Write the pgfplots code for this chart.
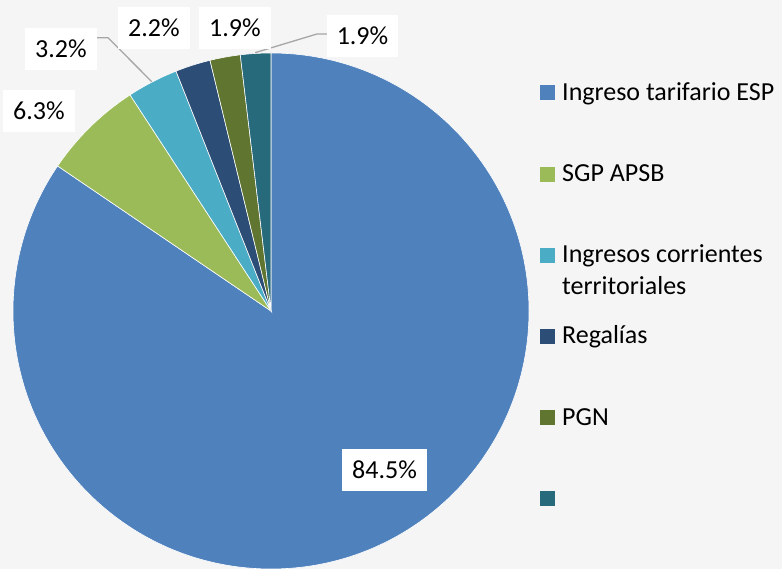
\documentclass[border=0pt]{standalone}
\usepackage{pgfplots}
\pgfplotsset{compat=1.18}
\usepackage{fontspec}
\setmainfont{Carlito}
\definecolor{bg}{HTML}{F5F5F5}
\definecolor{c1}{HTML}{4F81BD}
\definecolor{c2}{HTML}{9BBB59}
\definecolor{c3}{HTML}{4BACC6}
\definecolor{c4}{HTML}{2C4D75}
\definecolor{c5}{HTML}{5F7530}
\definecolor{c6}{HTML}{276A7C}
\definecolor{lead}{HTML}{A6A6A6}
\begin{document}
\begin{tikzpicture}[x=1pt,y=1pt, font=\fontsize{26}{32}\selectfont,
  lbl/.style={fill=white, inner xsep=10pt, inner ysep=12.75pt, text height=16.5pt, text depth=0pt, anchor=center},
  leader/.style={draw=lead, line width=1.3pt}]
\path[use as bounding box, fill=bg] (0,0) rectangle (782,569);
\begin{axis}[at={(271pt,258pt)}, anchor=center, x=258pt, y=258pt,
  xmin=-1, xmax=1, ymin=-1, ymax=1, hide axis, clip=false,
  every axis plot/.append style={draw=white, line width=0.6pt, data cs=polar},
  legend cell align=left,
  legend image code/.code={\path[#1, draw=none] (0pt,-7.5pt) rectangle (15pt,7.5pt);},
  legend style={at={(axis description cs:1.0213,0.9448)}, anchor=north west,
    draw=none, fill=none, inner sep=0pt, row sep=58.6pt, column sep=5pt,
    font=\fontsize{26}{32}\selectfont,
    /tikz/every even column/.append style={text height=17pt, text depth=5pt, inner sep=0pt}},
]
% shares (%): 84.5, 6.3, 3.2, 2.2, 1.9, 1.9 ; clockwise from 12 o'clock
\addplot[fill=c1] coordinates {(0,0) (90,1)} arc[start angle=90, delta angle=-3.6*84.5, radius=258pt] -- cycle;
\addlegendentry{Ingreso tarifario ESP}
\addplot[fill=c2] coordinates {(0,0) (-214.2,1)} arc[start angle=-214.2, delta angle=-3.6*6.3, radius=258pt] -- cycle;
\addlegendentry{SGP APSB}
\addplot[fill=c3] coordinates {(0,0) (-236.88,1)} arc[start angle=-236.88, delta angle=-3.6*3.2, radius=258pt] -- cycle;
\addlegendentry{\vtop{\hbox{Ingresos corrientes}\hbox{territoriales}}}
\addplot[fill=c4] coordinates {(0,0) (-248.4,1)} arc[start angle=-248.4, delta angle=-3.6*2.2, radius=258pt] -- cycle;
\addlegendentry{Regalías}
\addplot[fill=c5] coordinates {(0,0) (-256.32,1)} arc[start angle=-256.32, delta angle=-3.6*1.9, radius=258pt] -- cycle;
\addlegendentry{PGN}
\addplot[fill=c6] coordinates {(0,0) (-263.16,1)} arc[start angle=-263.16, delta angle=-3.6*1.9, radius=258pt] -- cycle;
\addlegendentry{}
\end{axis}
\draw[leader] (97,531.3) -- (108,531.3) -- (151.7,487.3);
\draw[leader] (328,535) -- (317,535) -- (255,516.3);
\node[lbl] at (384.5,99) {84.5\%};
\node[lbl] at (39,457.5) {6.3\%};
\node[lbl] at (61,520) {3.2\%};
\node[lbl] at (154,540.5) {2.2\%};
\node[lbl] at (235,540.5) {1.9\%};
\node[lbl] at (362.5,532.5) {1.9\%};
\end{tikzpicture}
\end{document}
